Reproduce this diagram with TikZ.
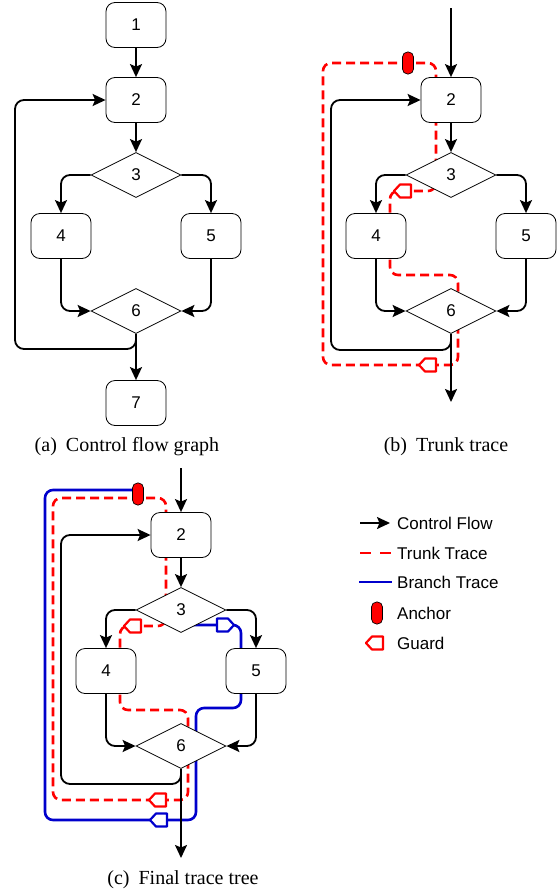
\documentclass[tikz,border=0pt]{standalone}
\usepackage{fontspec}
\setmainfont{Liberation Serif}
\newfontfamily\labfont{Liberation Sans}
\usepackage{xcolor}
\usetikzlibrary{arrows.meta,shapes.geometric,calc}

\definecolor{trunkred}{RGB}{255,0,0}
\definecolor{branchblue}{RGB}{0,0,204}

\tikzset{guard/.pic={\draw[line width=2.2pt,fill=white,line join=round] (-9,0) -- (-3,-6.5) -- (8,-6.5) -- (8,6.5) -- (-3,6.5) -- cycle;}}

\begin{document}
\begin{tikzpicture}[x=1pt,y=-1pt,
  every node/.style={font=\labfont\fontsize{17}{19}\selectfont},
  blk/.style={draw,rounded corners=9pt,minimum width=60pt,minimum height=45pt,fill=white,line width=0.8pt},
  dec/.style={draw,diamond,inner sep=0pt,minimum width=90pt,minimum height=45pt,fill=white,line width=0.8pt},
  e/.style={-{Stealth[length=13pt,width=12pt,inset=2.5pt]},line width=1.8pt,rounded corners=9pt},
  trunk/.style={trunkred,line width=2.6pt,dash pattern=on 9pt off 5pt,rounded corners=8pt},
  branch/.style={branchblue,line width=2.6pt,rounded corners=8pt},
  anc/.style={draw,line width=0.7pt,fill=trunkred,rounded corners=5pt,minimum width=11pt,minimum height=22pt,inner sep=0pt},
  subcap/.style={font=\fontsize{20}{22}\selectfont},
  lg/.style={anchor=west,inner xsep=0pt,font=\labfont\fontsize{17}{20}\selectfont}]
 \useasboundingbox (0,0) rectangle (558,892);

 \node[blk] (a1) at (136,25) {1};
 \node[blk] (a2) at (136,100) {2};
 \node[dec] (a3) at (136,175) {3};
 \node[blk] (a4) at (61,236) {4};
 \node[blk] (a5) at (211,236) {5};
 \node[dec] (a6) at (136,311) {6};
 \node[blk] (a7) at (136,403) {7};
 \coordinate (aL) at (15,349);
 \draw[e] (a1) -- (a2);
 \draw[e] (a2) -- (a3);
 \draw[e] (a3.west) -| (a4.north);
 \draw[e] (a3.east) -| (a5.north);
 \draw[e] (a4.south) |- (a6.west);
 \draw[e] (a5.south) |- (a6.east);
 \draw[e] (a6.south) |- (aL) |- (a2.west);
 \draw[e] (a6) -- (a7);
 \node[subcap] (capA) at (127,447) {(a)\hspace{0.45em}Control flow graph};

 \draw[trunk] (408,63) -- (436,63) -- (436,191) -- (390,191) -- (390,275) -- (458,275) -- (458,365) -- (323,365) -- (323,63) -- cycle;
 \node[blk] (b2) at (451,100) {2};
 \node[dec] (b3) at (451,175) {3};
 \node[blk] (b4) at (376,236) {4};
 \node[blk] (b5) at (526,236) {5};
 \node[dec] (b6) at (451,311) {6};
 \coordinate (bIn) at (451,8);
 \coordinate (bOut) at (451,402);
 \coordinate (bL) at (331,350);
 \draw[e] (bIn) -- (b2);
 \draw[e] (b2) -- (b3);
 \draw[e] (b3.west) -| (b4.north);
 \draw[e] (b3.east) -| (b5.north);
 \draw[e] (b4.south) |- (b6.west);
 \draw[e] (b5.south) |- (b6.east);
 \draw[e] (b6.south) |- (bL) |- (b2.west);
 \draw[e] (b6.south) -- (bOut);
 \pic[trunkred] at (403,191) {guard};
 \pic[trunkred] at (428,365) {guard};
 \node[anc] (bAnc) at (408,63) {};
 \node[subcap] (capB) at (446,447) {(b)\hspace{0.45em}Trunk trace};

 \draw[branch] (181,625) -- (241,625) -- (241,708) -- (196,708) -- (196,820) -- (45,820) -- (45,490) -- (138,490);
 \draw[trunk] (138,498) -- (166,498) -- (166,626) -- (120,626) -- (120,710) -- (188,710) -- (188,800) -- (53,800) -- (53,498) -- cycle;
 \node[blk] (c2) at (181,535) {2};
 \node[dec] (c3) at (181,610) {3};
 \node[blk] (c4) at (106,671) {4};
 \node[blk] (c5) at (256,671) {5};
 \node[dec] (c6) at (181,746) {6};
 \coordinate (cIn) at (181,468);
 \coordinate (cOut) at (181,858);
 \coordinate (cL) at (61,784);
 \draw[e] (cIn) -- (c2);
 \draw[e] (c2) -- (c3);
 \draw[e] (c3.west) -| (c4.north);
 \draw[e] (c3.east) -| (c5.north);
 \draw[e] (c4.south) |- (c6.west);
 \draw[e] (c5.south) |- (c6.east);
 \draw[e] (c6.south) |- (cL) |- (c2.west);
 \draw[e] (c6.south) -- (cOut);
 \pic[trunkred] at (133,626) {guard};
 \pic[trunkred] at (158,800) {guard};
 \pic[branchblue,xscale=-1] at (225,625) {guard};
 \pic[branchblue] at (159,820) {guard};
 \node[anc] (cAnc) at (138,494) {};
 \node[subcap] (capC) at (183,880) {(c)\hspace{0.45em}Final trace tree};

 \node[lg] (lgCF) at (397,523) {Control Flow};
 \node[lg] (lgTT) at (397,553) {Trunk Trace};
 \node[lg] (lgBT) at (397,582) {Branch Trace};
 \node[lg] (lgAn) at (397,613) {Anchor};
 \node[lg] (lgGd) at (397,643) {Guard};
 \draw[e] ([xshift=-37pt]lgCF.west) -- ([xshift=-7pt]lgCF.west);
 \draw[trunk,dash pattern=on 11pt off 9pt] ([xshift=-37pt]lgTT.west) -- ([xshift=-6pt]lgTT.west);
 \draw[branch] ([xshift=-38pt]lgBT.west) -- ([xshift=-5pt]lgBT.west);
 \node[anc] (lgAnc) at ([xshift=-20pt]lgAn.west) {};
 \pic[trunkred] at ([xshift=-22pt]lgGd.west) {guard};
\end{tikzpicture}
\end{document}
